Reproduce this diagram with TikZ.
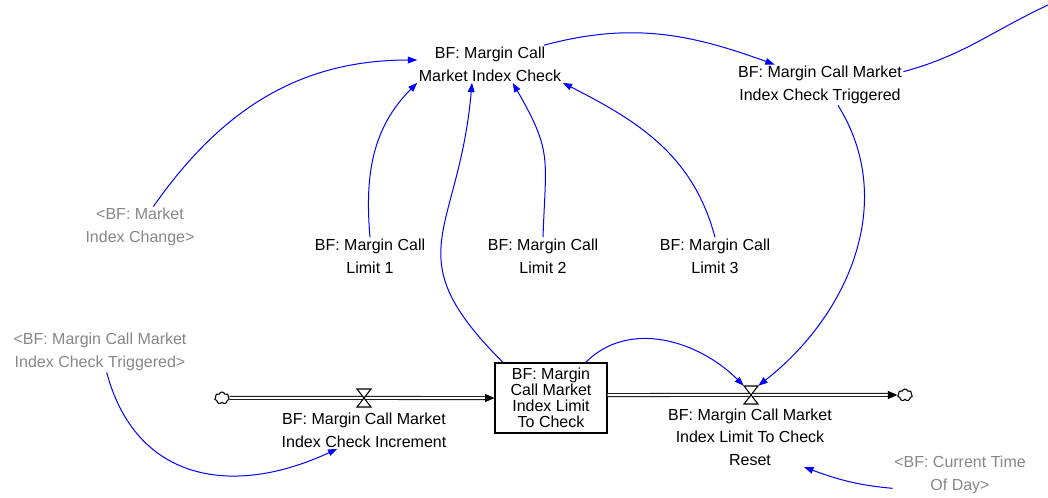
\documentclass[tikz,border=0pt]{standalone}
\usepackage{fontspec}
\setmainfont{Liberation Sans}
\usetikzlibrary{positioning}
\usetikzlibrary{shapes.symbols}
\usetikzlibrary{arrows.meta}
\definecolor{shadowgray}{RGB}{135,135,135}
\tikzset{
    var/.style = {align=center, inner sep=1pt, font=\fontsize{12}{17}\selectfont},
    shadowvar/.style = {var, text=shadowgray},
    stockbox/.style = {rectangle, draw=black, line width=0.8pt, minimum width=84pt, minimum height=52.5pt, align=center, inner sep=1pt, font=\fontsize{12}{12}\selectfont},
    cloudn/.style = {cloud, cloud puffs=7, draw=black, line width=0.8pt, minimum width=11pt, minimum height=9pt, inner sep=0pt},
    valvebox/.style = {rectangle, minimum width=10.5pt, minimum height=13.5pt, inner sep=0pt},
    valvebody/.style = {draw=black, fill=white, line width=0.8pt, line join=miter},
    link/.style = {-{Triangle[length=7pt,width=5pt]}, line width=0.75pt, blue},
    linkn/.style = {line width=0.75pt, blue},
    pipe/.style = {draw=black, double=white, double distance=1.8pt, line width=0.6pt},
    pipehead/.style = {-{Triangle[length=7pt,width=6pt]}, line width=0.6pt, black},
}
\newcommand{\Valve}[1]{\path[valvebody] (#1) ++(-7,-9) -- ++(14,0) -- ++(-14,18) -- ++(14,0) -- cycle;}

\begin{document}
\begin{tikzpicture}[x=0.75pt, y=-0.75pt]
\useasboundingbox (0,0) rectangle (1048,498);
% variables
\node[var] at (490,64) (check) {BF: Margin Call\\Market Index Check};
\node[var] at (820,85) (trig) {BF: Margin Call Market\\Index Check Triggered};
\node[shadowvar] at (140,227) (idxchg) {<BF: Market\\Index Change>};
\node[var] at (370,256) (lim1) {BF: Margin Call\\Limit 1};
\node[var] at (543,256) (lim2) {BF: Margin Call\\Limit 2};
\node[var] at (715,256) (lim3) {BF: Margin Call\\Limit 3};
\node[shadowvar] at (100,352) (trigsh) {<BF: Margin Call Market\\Index Check Triggered>};
\node[shadowvar] at (960,475) (curtime) {<BF: Current Time\\Of Day>};
% stock and flows
\node[stockbox] at (551,398) (tocheck) {BF: Margin\\Call Market\\Index Limit\\To Check};
\node[cloudn] at (222,398) (srcA) {};
\node[cloudn] at (905,395) (sinkA) {};
\node[valvebox] at (364,398) (incv) {};
\node[valvebox] at (751,395) (resv) {};
\node[var] at (364,430) (inc) {BF: Margin Call Market\\Index Check Increment};
\node[var] at (750,437) (reset) {BF: Margin Call Market\\Index Limit To Check\\Reset};
\coordinate (offpage) at (1048,5);
%
\draw[pipe] (srcA) -- ([xshift=-6pt]tocheck.west);
\draw[pipehead] ([xshift=-7pt]tocheck.west) -- (tocheck.west);
\draw[pipe] (tocheck.east |- sinkA) -- ([xshift=-6pt]sinkA.west);
\draw[pipehead] ([xshift=-7pt]sinkA.west) -- (sinkA.west);
\Valve{incv}
\Valve{resv}
% links
\draw[link] ([xshift=10pt]idxchg.north) to[out=55,in=180] ([yshift=3pt]check.west);
\draw[link] (lim1.north) to[out=95,in=225] (check.south west);
\draw[link] ([xshift=-36pt]tocheck.north) to[out=135,in=265,looseness=1.4] ([xshift=-13.5pt]check.south);
\draw[link] (lim2.north) to[out=88,in=300,looseness=1.3] ([xshift=17pt]check.south);
\draw[link] (lim3.north) to[out=105,in=333] (check.south east);
\draw[link] ([xshift=-14pt]check.north east) to[out=15,in=160] ([xshift=-34pt]trig.north);
\draw[linkn] ([yshift=10pt]trig.east) to[out=15,in=205] (offpage);
\draw[link] ([xshift=13.5pt]trig.south) to[out=-58,in=38] (resv.north east);
\draw[link] ([xshift=-16.5pt]tocheck.north east) to[out=45,in=135] (resv.north west);
\draw[link] ([xshift=5pt]trigsh.south) to[out=-75,in=205,looseness=1.2] ([xshift=-20pt]inc.south);
\draw[link] ([yshift=-10pt]curtime.west) to[out=175,in=-20] ([xshift=-22pt]reset.south east);

\end{tikzpicture}
\end{document}
